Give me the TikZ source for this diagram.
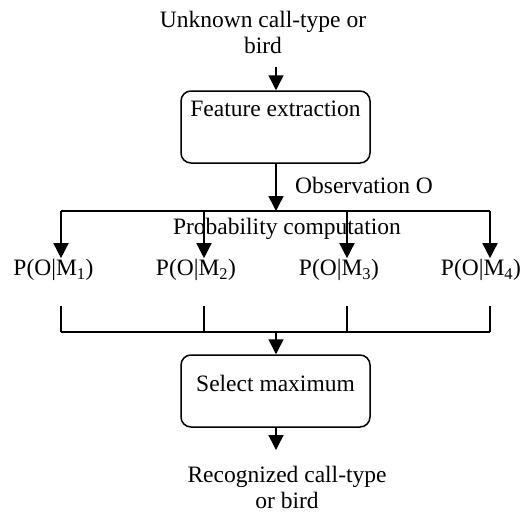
\documentclass[tikz,border=0pt]{standalone}
\usepackage{fontspec}
\setmainfont{Liberation Serif}
\usetikzlibrary{arrows.meta,positioning}

\begin{document}
\begin{tikzpicture}[x=1pt, y=-1pt,
                      txt/.style={inner sep=0pt, align=center,
                                  font=\fontsize{23.5}{26}\selectfont},
                      plabel/.style={txt, anchor=base, outer sep=1pt},
                      box/.style={draw, line width=1.5pt, rounded corners=10pt,
                                  minimum width=189pt, minimum height=72pt,
                                  inner sep=0pt, font=\fontsize{23.5}{26}\selectfont},
                      arr/.style={-{Triangle[length=15pt,width=15pt]}, line width=1.5pt},
                      ln/.style={line width=1.5pt}]
    \useasboundingbox (0,0) rectangle (527,514);
    \node[txt] (in) at (263,32) {Unknown call-type or\\bird};
    \coordinate (intop) at (276,67);
    \node[box, text depth=35.6pt] (feat) at (275.5,127) {Feature extraction};
    \coordinate (split) at (276,211);
    \node[txt, anchor=base] (obs) at (364,193) {Observation O};
    \node[txt, anchor=base] (prob) at (287,234) {Probability computation};
    \coordinate (a1) at (61,211);
    \coordinate (a2) at (204,211);
    \coordinate (a3) at (347,211);
    \coordinate (a4) at (490,211);
    \node[plabel] (p1) at (53.5,275.5) {P(O|M\textsubscript{1})};
    \node[plabel] (p2) at (196,275.5) {P(O|M\textsubscript{2})};
    \node[plabel] (p3) at (339,275.5) {P(O|M\textsubscript{3})};
    \node[plabel] (p4) at (481,275.5) {P(O|M\textsubscript{4})};
    \coordinate (b1) at (61,306);
    \coordinate (b2) at (204,306);
    \coordinate (b3) at (347,306);
    \coordinate (b4) at (490,306);
    \coordinate (c1) at (61,332);
    \coordinate (c2) at (204,332);
    \coordinate (c3) at (347,332);
    \coordinate (c4) at (490,332);
    \coordinate (join) at (276,332);
    \node[box, text depth=16pt] (sel) at (275.5,391) {Select maximum};
    \coordinate (outtip) at (276,450);
    \node[txt] (out) at (287,487.7) {Recognized call-type\\or bird};

    \draw[arr] (intop) -- (intop |- feat.north);
    \draw[arr] (feat.south -| split) -- (split);
    \draw[ln] (a1) -- (a4);
    \draw[arr] (a1) -- (a1 |- p1.north);
    \draw[arr] (a2) -- (a2 |- p2.north);
    \draw[arr] (a3) -- (a3 |- p3.north);
    \draw[arr] (a4) -- (a4 |- p4.north);
    \draw[ln] (b1) -- (c1);
    \draw[ln] (b2) -- (c2);
    \draw[ln] (b3) -- (c3);
    \draw[ln] (b4) -- (c4);
    \draw[ln] (c1) -- (c4);
    \draw[arr] (join) -- (join |- sel.north);
    \draw[arr] (sel.south -| outtip) -- (outtip);
\end{tikzpicture}
\end{document}
